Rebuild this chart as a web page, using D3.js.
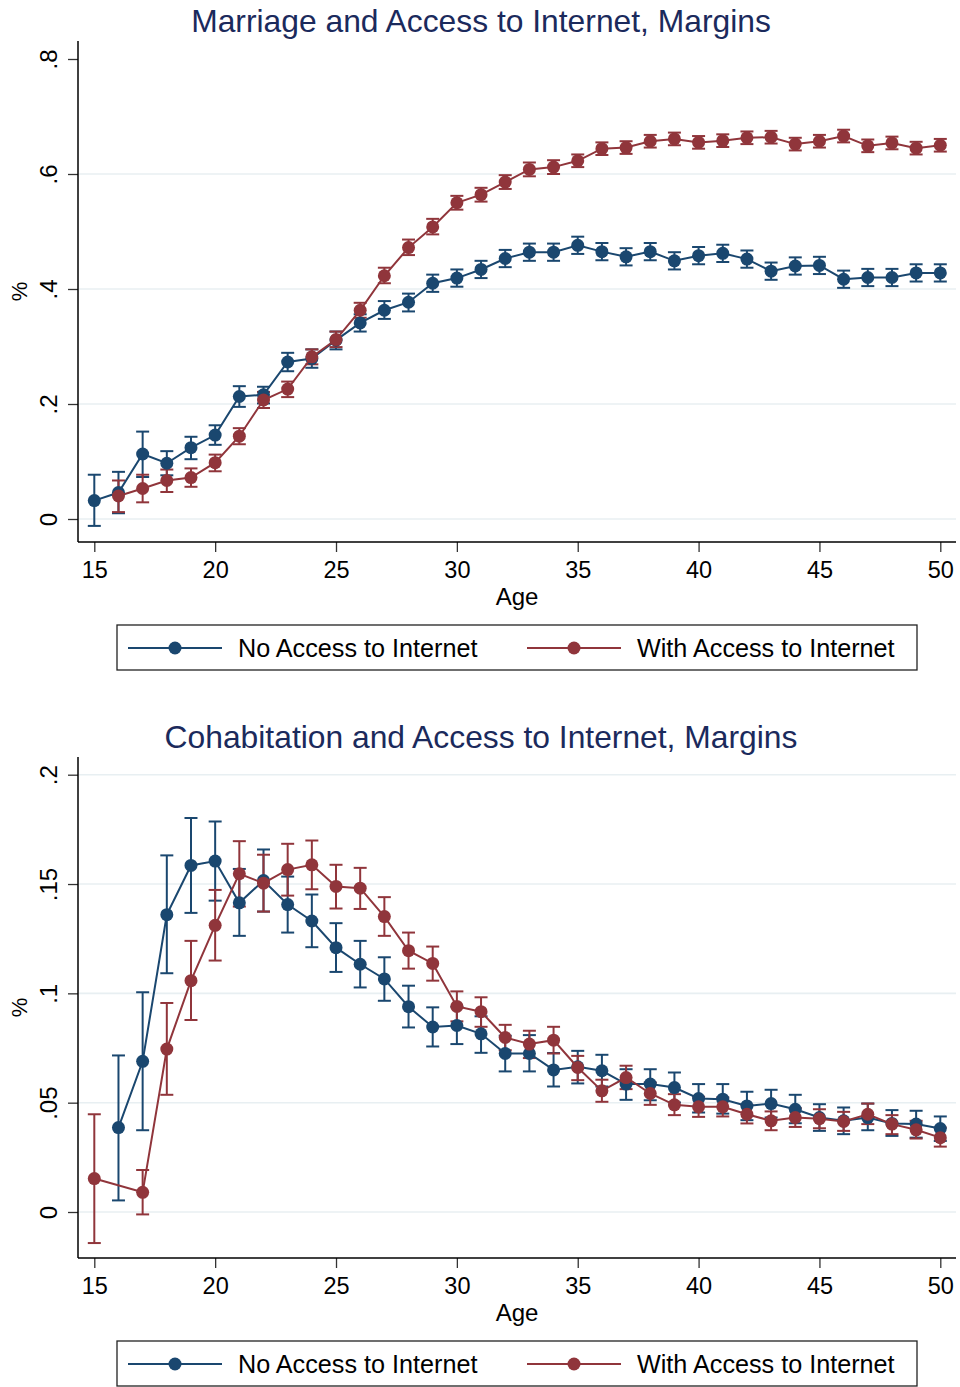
<!DOCTYPE html>
<html>
<head>
<meta charset="utf-8">
<script src="https://cdn.jsdelivr.net/npm/d3@7/dist/d3.min.js"></script>
<style>
  html, body { margin: 0; padding: 0; background: #ffffff; }
  svg { display: block; font-family: "Liberation Sans", Arial, Helvetica, sans-serif; }
</style>
</head>
<body>
<svg id="chart" width="960" height="1387"></svg>
<script>
// Ages on the horizontal axis
const ages = [15,16,17,18,19,20,21,22,23,24,25,26,27,28,29,30,31,32,33,34,35,36,37,38,39,40,41,42,43,44,45,46,47,48,49,50];
const xTicks = [15,20,25,30,35,40,45,50];

const seriesNames = ["No Access to Internet", "With Access to Internet"];
const seriesColors = ["#1a476f", "#90353b"];

// Marriage margins: point estimate, upper and lower 95% bounds
const marriageNoNet = [0.032,0.046,0.113,0.097,0.124,0.146,0.213,0.216,0.273,0.279,0.311,0.341,0.363,0.377,0.410,0.419,0.434,0.453,0.464,0.464,0.476,0.465,0.456,0.465,0.449,0.458,0.462,0.452,0.431,0.440,0.441,0.417,0.420,0.420,0.428,0.428];
const marriageNoNetHi = [0.077,0.082,0.152,0.118,0.143,0.163,0.231,0.230,0.289,0.295,0.326,0.356,0.379,0.392,0.425,0.434,0.449,0.468,0.479,0.479,0.491,0.480,0.471,0.480,0.464,0.473,0.477,0.467,0.446,0.455,0.456,0.432,0.435,0.435,0.443,0.443];
const marriageNoNetLo = [-0.012,0.010,0.073,0.076,0.104,0.129,0.195,0.201,0.257,0.263,0.295,0.326,0.348,0.361,0.395,0.404,0.419,0.438,0.449,0.449,0.461,0.450,0.441,0.450,0.434,0.443,0.447,0.437,0.416,0.425,0.426,0.402,0.405,0.405,0.413,0.413];

const marriageNet = [null,0.040,0.053,0.067,0.072,0.098,0.144,0.207,0.226,0.282,0.312,0.363,0.423,0.472,0.508,0.550,0.564,0.586,0.608,0.612,0.623,0.644,0.646,0.657,0.661,0.655,0.658,0.663,0.664,0.652,0.657,0.666,0.649,0.654,0.645,0.650];
const marriageNetHi = [null,0.067,0.077,0.086,0.088,0.112,0.158,0.221,0.239,0.295,0.326,0.376,0.437,0.486,0.522,0.562,0.576,0.598,0.620,0.624,0.634,0.655,0.657,0.668,0.672,0.666,0.669,0.674,0.675,0.663,0.668,0.677,0.660,0.665,0.656,0.661];
const marriageNetLo = [null,0.012,0.029,0.047,0.056,0.083,0.130,0.193,0.212,0.269,0.299,0.350,0.410,0.459,0.495,0.538,0.552,0.574,0.596,0.600,0.612,0.633,0.635,0.646,0.650,0.644,0.647,0.652,0.653,0.641,0.646,0.655,0.638,0.643,0.634,0.639];

// Cohabitation margins: point estimate, upper and lower 95% bounds
const cohabNoNet = [null,0.0386,0.0689,0.1360,0.1585,0.1605,0.1414,0.1516,0.1406,0.1331,0.1209,0.1133,0.1066,0.0939,0.0846,0.0853,0.0815,0.0725,0.0725,0.0650,0.0664,0.0646,0.0585,0.0585,0.0569,0.0519,0.0516,0.0485,0.0496,0.0470,0.0432,0.0417,0.0432,0.0405,0.0402,0.0382];
const cohabNoNetHi = [null,0.0716,0.1005,0.1631,0.1802,0.1786,0.1569,0.1658,0.1534,0.1452,0.1321,0.1240,0.1165,0.1035,0.0936,0.0939,0.0895,0.0806,0.0809,0.0727,0.0737,0.0719,0.0653,0.0653,0.0638,0.0585,0.0585,0.0550,0.0559,0.0536,0.0493,0.0478,0.0496,0.0466,0.0463,0.0437];
const cohabNoNetLo = [null,0.0053,0.0374,0.1092,0.1368,0.1424,0.1263,0.1374,0.1278,0.1211,0.1098,0.1027,0.0966,0.0844,0.0757,0.0768,0.0728,0.0643,0.0643,0.0574,0.0588,0.0574,0.0513,0.0511,0.0501,0.0455,0.0450,0.0420,0.0432,0.0406,0.0371,0.0356,0.0374,0.0348,0.0340,0.0325];

const cohabNet = [0.0153,null,0.0090,0.0745,0.1058,0.1311,0.1547,0.1504,0.1566,0.1588,0.1489,0.1481,0.1351,0.1195,0.1137,0.0940,0.0916,0.0798,0.0768,0.0786,0.0661,0.0554,0.0615,0.0542,0.0490,0.0481,0.0481,0.0447,0.0417,0.0432,0.0427,0.0414,0.0447,0.0402,0.0376,0.0340];
const cohabNetHi = [0.0447,null,0.0192,0.0956,0.1240,0.1473,0.1696,0.1634,0.1684,0.1699,0.1588,0.1574,0.1440,0.1278,0.1214,0.1009,0.0982,0.0856,0.0829,0.0847,0.0714,0.0605,0.0669,0.0592,0.0539,0.0527,0.0524,0.0490,0.0460,0.0475,0.0470,0.0458,0.0496,0.0443,0.0417,0.0386];
const cohabNetLo = [-0.0142,null,-0.0011,0.0536,0.0878,0.1150,0.1397,0.1374,0.1447,0.1476,0.1388,0.1386,0.1263,0.1113,0.1058,0.0872,0.0847,0.0740,0.0704,0.0725,0.0603,0.0504,0.0562,0.0490,0.0443,0.0435,0.0437,0.0405,0.0374,0.0389,0.0383,0.0371,0.0402,0.0356,0.0336,0.0299];

const marriageTicks = [0, 0.2, 0.4, 0.6, 0.8];
const cohabTicks = [0, 0.05, 0.1, 0.15, 0.2];

const svg = d3.select("#chart");

// Stata-style labels: drop the leading zero (".2", ".05")
const fmtTick = v => v === 0 ? "0" : String(v).replace(/^0\./, ".");

function drawPanel(cfg) {
  const g = svg.append("g").attr("transform", `translate(0,${cfg.offset})`);
  const left = 78, right = 956;
  const top = 41, bottom = 542;

  const x = d3.scaleLinear().domain([15, 50]).range([94.3, 940.3]);
  const y = d3.scaleLinear().domain(cfg.yDomain).range(cfg.yRange);

  // title
  g.append("text")
    .attr("x", 481).attr("y", 32)
    .attr("text-anchor", "middle")
    .attr("font-size", 31.8)
    .attr("fill", "#1b2a5c")
    .text(cfg.title);

  // horizontal gridlines
  g.append("g").selectAll("line")
    .data(cfg.ticks.filter(t => t !== cfg.noGrid))
    .join("line")
    .attr("x1", left + 1).attr("x2", right)
    .attr("y1", d => y(d)).attr("y2", d => y(d))
    .attr("stroke", "#e8eff2")
    .attr("stroke-width", 1.6);

  // y axis
  const yAxis = d3.axisLeft(y).tickValues(cfg.ticks).tickSize(10).tickPadding(0).tickFormat(fmtTick);
  const ya = g.append("g").attr("transform", `translate(${left},0)`).call(yAxis);
  ya.select(".domain").remove();
  ya.selectAll(".tick line").attr("stroke", "#333").attr("stroke-width", 1.3);
  ya.selectAll(".tick text")
    .attr("x", null).attr("dy", null)
    .attr("transform", "translate(-21,0) rotate(-90)")
    .attr("text-anchor", "middle")
    .attr("font-size", 24)
    .attr("fill", "#000")
    .attr("font-family", "Liberation Sans, Arial, sans-serif");
  g.append("line")
    .attr("x1", left).attr("x2", left)
    .attr("y1", top).attr("y2", bottom)
    .attr("stroke", "#000").attr("stroke-width", 1.5);

  // x axis
  const xAxis = d3.axisBottom(x).tickValues(xTicks).tickSize(10).tickPadding(4).tickFormat(d3.format("d"));
  const xa = g.append("g").attr("transform", `translate(0,${bottom})`).call(xAxis);
  xa.select(".domain").remove();
  xa.selectAll(".tick line").attr("stroke", "#333").attr("stroke-width", 1.3);
  xa.selectAll(".tick text")
    .attr("y", null).attr("dy", null)
    .attr("transform", "translate(0,36)")
    .attr("font-size", 23.5)
    .attr("fill", "#000")
    .attr("font-family", "Liberation Sans, Arial, sans-serif");
  g.append("line")
    .attr("x1", left).attr("x2", right)
    .attr("y1", bottom).attr("y2", bottom)
    .attr("stroke", "#000").attr("stroke-width", 1.5);

  // axis titles
  g.append("text")
    .attr("x", (left + right) / 2).attr("y", 605)
    .attr("text-anchor", "middle")
    .attr("font-size", 24)
    .text("Age");
  g.append("text")
    .attr("transform", `translate(27,${(top + bottom) / 2}) rotate(-90)`)
    .attr("text-anchor", "middle")
    .attr("font-size", 22)
    .text("%");

  const series = cfg.series.map((s, i) => ({
    color: seriesColors[i],
    pts: ages.map((a, k) => ({ age: a, v: s.v[k], hi: s.hi[k], lo: s.lo[k] })).filter(p => p.v !== null)
  }));

  // confidence-interval caps
  const capHalf = 6.5;
  series.forEach(s => {
    const cg = g.append("g").attr("stroke", s.color).attr("stroke-width", 2).attr("fill", "none");
    cg.selectAll("line.v").data(s.pts).join("line").attr("class", "v")
      .attr("x1", d => x(d.age)).attr("x2", d => x(d.age))
      .attr("y1", d => y(d.lo)).attr("y2", d => y(d.hi));
    cg.selectAll("line.hi").data(s.pts).join("line").attr("class", "hi")
      .attr("x1", d => x(d.age) - capHalf).attr("x2", d => x(d.age) + capHalf)
      .attr("y1", d => y(d.hi)).attr("y2", d => y(d.hi));
    cg.selectAll("line.lo").data(s.pts).join("line").attr("class", "lo")
      .attr("x1", d => x(d.age) - capHalf).attr("x2", d => x(d.age) + capHalf)
      .attr("y1", d => y(d.lo)).attr("y2", d => y(d.lo));
  });

  // connected lines with markers
  const line = d3.line().x(d => x(d.age)).y(d => y(d.v));
  series.forEach(s => {
    g.append("path").datum(s.pts)
      .attr("d", line)
      .attr("fill", "none")
      .attr("stroke", s.color)
      .attr("stroke-width", 2);
    g.append("g").selectAll("circle").data(s.pts).join("circle")
      .attr("cx", d => x(d.age)).attr("cy", d => y(d.v))
      .attr("r", 6.5)
      .attr("fill", s.color);
  });

  // legend
  const lg = g.append("g");
  lg.append("rect")
    .attr("x", 117).attr("y", 625).attr("width", 800).attr("height", 45)
    .attr("fill", "#fff").attr("stroke", "#222").attr("stroke-width", 1.3);
  const keyX = [128, 527];
  seriesNames.forEach((name, i) => {
    lg.append("line")
      .attr("x1", keyX[i]).attr("x2", keyX[i] + 94)
      .attr("y1", 648).attr("y2", 648)
      .attr("stroke", seriesColors[i]).attr("stroke-width", 2);
    lg.append("circle")
      .attr("cx", keyX[i] + 47).attr("cy", 648).attr("r", 6.5)
      .attr("fill", seriesColors[i]);
    lg.append("text")
      .attr("x", keyX[i] + 110).attr("y", 657)
      .attr("font-size", 25.2)
      .attr("fill", "#000")
      .text(name);
  });
}

drawPanel({
  offset: 0,
  title: "Marriage and Access to Internet, Margins",
  yDomain: [0, 0.8], yRange: [519, 59],
  ticks: marriageTicks, noGrid: 0.8,
  series: [
    { v: marriageNoNet, hi: marriageNoNetHi, lo: marriageNoNetLo },
    { v: marriageNet, hi: marriageNetHi, lo: marriageNetLo }
  ]
});

drawPanel({
  offset: 716,
  title: "Cohabitation and Access to Internet, Margins",
  yDomain: [0, 0.2], yRange: [496, 58.7],
  ticks: cohabTicks, noGrid: null,
  series: [
    { v: cohabNoNet, hi: cohabNoNetHi, lo: cohabNoNetLo },
    { v: cohabNet, hi: cohabNetHi, lo: cohabNetLo }
  ]
});
</script>
</body>
</html>
